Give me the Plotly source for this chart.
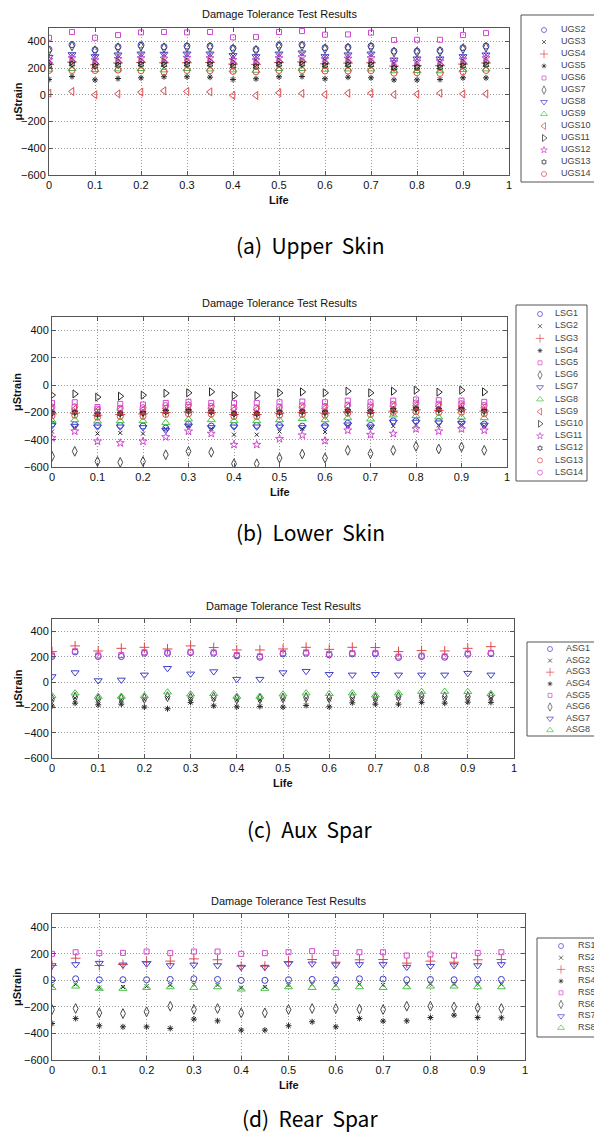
import plotly.graph_objects as go

LIFE = [0.00, 0.05, 0.10, 0.15, 0.20, 0.25, 0.30, 0.35, 0.40, 0.45,
        0.50, 0.55, 0.60, 0.65, 0.70, 0.75, 0.80, 0.85, 0.90, 0.95]

# ---------------- (a) Upper Skin ----------------
UGS_NAMES = ["UGS2", "UGS3", "UGS4", "UGS5", "UGS6", "UGS7", "UGS8",
             "UGS9", "UGS10", "UGS11", "UGS12", "UGS13", "UGS14"]
UGS2 = [340, 375, 337, 360, 372, 360, 365, 365, 350, 340, 372, 375, 352, 357, 365, 327, 327, 332, 352, 365]
UGS3 = [285, 300, 282, 295, 302, 300, 302, 302, 290, 285, 302, 308, 285, 295, 300, 262, 268, 268, 285, 298]
UGS4 = [228, 245, 225, 238, 242, 240, 240, 242, 230, 228, 242, 246, 232, 238, 240, 215, 218, 218, 230, 238]
UGS5 = [115, 137, 112, 122, 127, 135, 135, 132, 115, 120, 135, 137, 120, 132, 127, 112, 112, 115, 127, 127]
UGS6 = [427, 470, 427, 447, 467, 470, 467, 470, 430, 432, 470, 477, 450, 452, 465, 410, 412, 412, 447, 462]
UGS7 = [330, 365, 330, 352, 362, 352, 356, 356, 342, 333, 362, 366, 344, 350, 356, 320, 320, 325, 344, 356]
UGS8 = [282, 302, 287, 300, 307, 305, 307, 307, 295, 287, 307, 315, 287, 300, 307, 262, 270, 270, 287, 300]
UGS9 = [190, 195, 188, 192, 195, 185, 195, 192, 185, 182, 195, 195, 190, 192, 192, 178, 180, 178, 188, 192]
UGS10 = [12, 25, 0, 7, 20, 30, 25, 22, -5, -5, 15, 10, 2, 12, 12, 2, 5, 12, 7, 7]
UGS11 = [238, 250, 235, 245, 248, 245, 248, 248, 238, 236, 248, 250, 240, 245, 245, 212, 215, 225, 238, 245]
UGS12 = [262, 275, 260, 270, 275, 272, 278, 275, 262, 260, 275, 282, 268, 272, 275, 245, 250, 252, 265, 275]
UGS13 = [218, 230, 215, 222, 228, 225, 228, 228, 215, 212, 228, 230, 220, 225, 225, 200, 205, 205, 218, 225]
UGS14 = [182, 182, 182, 185, 180, 170, 182, 180, 175, 172, 182, 182, 178, 178, 180, 162, 165, 160, 172, 182]

# ---------------- (b) Lower Skin ----------------
LSG_NAMES = ["LSG1", "LSG2", "LSG3", "LSG4", "LSG5", "LSG6", "LSG7",
             "LSG8", "LSG9", "LSG10", "LSG11", "LSG12", "LSG13", "LSG14"]
LSG1 = [-285, -290, -295, -295, -300, -315, -285, -300, -295, -295, -295, -300, -298, -280, -295, -262, -262, -265, -272, -285]
LSG2 = [-340, -310, -355, -350, -355, -320, -300, -320, -363, -363, -340, -320, -343, -300, -310, -300, -290, -296, -290, -300]
LSG3 = [-210, -205, -220, -215, -210, -200, -195, -200, -215, -215, -205, -200, -205, -195, -200, -190, -180, -185, -180, -190]
LSG4 = [-200, -195, -210, -205, -200, -185, -184, -190, -205, -205, -195, -190, -195, -185, -190, -175, -170, -175, -170, -185]
LSG5 = [-130, -125, -160, -137, -142, -130, -122, -130, -130, -130, -125, -120, -125, -113, -125, -113, -105, -110, -113, -122]
LSG6 = [-522, -485, -559, -566, -559, -510, -485, -492, -576, -576, -534, -505, -534, -478, -502, -478, -448, -468, -453, -478]
LSG7 = [-295, -300, -305, -305, -310, -330, -298, -310, -305, -305, -305, -310, -305, -290, -305, -270, -270, -275, -280, -292]
LSG8 = [-260, -255, -265, -262, -262, -275, -250, -255, -262, -262, -255, -247, -255, -240, -250, -220, -225, -235, -235, -240]
LSG9 = [-180, -175, -185, -180, -180, -170, -165, -170, -180, -180, -175, -165, -170, -160, -170, -155, -150, -155, -155, -165]
LSG10 = [-73, -64, -88, -81, -73, -59, -56, -49, -76, -76, -56, -49, -56, -44, -56, -44, -37, -51, -37, -49]
LSG11 = [-387, -338, -412, -424, -412, -380, -338, -355, -436, -436, -394, -367, -407, -331, -363, -355, -321, -338, -321, -331]
LSG12 = [-205, -200, -215, -210, -205, -195, -190, -195, -210, -210, -200, -195, -200, -190, -195, -182, -175, -180, -178, -190]
LSG13 = [-225, -220, -235, -230, -228, -215, -210, -212, -230, -230, -220, -215, -220, -205, -215, -200, -195, -200, -198, -210]
LSG14 = [-160, -158, -175, -168, -165, -150, -145, -155, -165, -165, -158, -150, -155, -145, -150, -140, -130, -138, -135, -148]

# ---------------- (c) Aux Spar ----------------
ASG_NAMES = ["ASG1", "ASG2", "ASG3", "ASG4", "ASG5", "ASG6", "ASG7", "ASG8"]
ASG1 = [203, 239, 203, 203, 229, 229, 234, 229, 208, 197, 224, 229, 216, 224, 224, 195, 203, 197, 221, 226]
ASG2 = [-140, -125, -145, -140, -135, -120, -128, -130, -142, -142, -135, -128, -135, -128, -132, -125, -118, -122, -120, -125]
ASG3 = [242, 287, 247, 268, 276, 263, 287, 274, 255, 255, 263, 276, 260, 276, 274, 242, 250, 247, 268, 281]
ASG4 = [-189, -166, -179, -174, -197, -210, -160, -187, -195, -192, -197, -184, -195, -163, -174, -174, -160, -166, -158, -160]
ASG5 = [212, 245, 212, 215, 237, 235, 240, 236, 215, 205, 232, 236, 224, 230, 232, 203, 210, 205, 228, 232]
ASG6 = [-134, -118, -134, -130, -128, -115, -122, -120, -132, -130, -125, -121, -125, -118, -125, -115, -110, -115, -115, -113]
ASG7 = [45, 76, 13, 18, 58, 110, 66, 84, 24, 24, 76, 87, 63, 58, 63, 58, 58, 58, 71, 58]
ASG8 = [-108, -87, -113, -113, -108, -79, -95, -92, -113, -113, -95, -87, -92, -87, -103, -87, -74, -74, -76, -92]

# ---------------- (d) Rear Spar ----------------
RS_NAMES = ["RS1", "RS2", "RS3", "RS4", "RS5", "RS6", "RS7", "RS8"]
RS1 = [5, 12, 5, 5, 5, 7, 12, 7, 0, 0, 5, 7, 5, 12, 10, 5, 7, 5, 7, 7]
RS2 = [-40, -30, -55, -50, -45, -35, -30, -35, -55, -50, -35, -30, -35, -30, -35, -30, -28, -30, -28, -30]
RS3 = [112, 167, 112, 120, 142, 145, 162, 155, 107, 107, 142, 157, 137, 155, 157, 130, 145, 137, 155, 157]
RS4 = [-325, -287, -342, -350, -350, -362, -292, -305, -375, -375, -342, -312, -350, -287, -307, -305, -280, -262, -280, -282]
RS5 = [200, 212, 205, 207, 217, 205, 217, 217, 200, 205, 212, 220, 207, 212, 212, 187, 195, 187, 207, 212]
RS6 = [-220, -212, -245, -250, -237, -195, -220, -212, -245, -245, -220, -212, -212, -217, -220, -195, -195, -200, -207, -212]
RS7 = [112, 120, 130, 117, 125, 112, 117, 112, 100, 100, 125, 125, 117, 120, 120, 100, 107, 112, 112, 120]
RS8 = [-55, -45, -62, -62, -55, -50, -55, -50, -67, -62, -50, -55, -57, -50, -55, -50, -45, -45, -50, -50]

Y_TICKS = [-600, -400, -200, 0, 200, 400]
X_TICKS = [0, 0.1, 0.2, 0.3, 0.4, 0.5, 0.6, 0.7, 0.8, 0.9, 1]

# ---------------- styling ----------------
W, H = 594, 1142
BLUE = "#4040cc"
BLACK = "#2a2a2a"
RED = "#e04848"
MAG = "#d048d0"
GREEN = "#44c444"
GRAY = "#484848"

STYLES = [
    ("circle-open", BLUE, 6),
    ("x-thin-open", BLACK, 4),
    ("cross-thin-open", RED, 7),
    ("asterisk-open", BLACK, 5),
    ("square-open", MAG, 5),
    ("diamond-tall-open", GRAY, 7),
    ("triangle-down-open", BLUE, 7),
    ("triangle-up-open", GREEN, 7),
    ("triangle-left-open", RED, 7),
    ("triangle-right-open", BLACK, 7),
    ("star-open", MAG, 6),
    ("hexagram-open", BLACK, 5),
    ("circle-open", RED, 6),
    ("circle-open", MAG, 6),
]

LEG_FONT = "Liberation Sans, Arial"

panels = [
    dict(names=UGS_NAMES,
         data=[UGS2, UGS3, UGS4, UGS5, UGS6, UGS7, UGS8, UGS9, UGS10, UGS11, UGS12, UGS13, UGS14],
         plot=(49, 509, 28, 175), box=(521, 610, 15, 182), row0=30, step=12, mx=544, tx=561,
         caption="(a)  Upper  Skin", cap_y=245),
    dict(names=LSG_NAMES,
         data=[LSG1, LSG2, LSG3, LSG4, LSG5, LSG6, LSG7, LSG8, LSG9, LSG10, LSG11, LSG12, LSG13, LSG14],
         plot=(52, 507, 317, 467), box=(516, 587, 305, 481), row0=314, step=12.2, mx=540, tx=555,
         caption="(b)  Lower  Skin", cap_y=532),
    dict(names=ASG_NAMES,
         data=[ASG1, ASG2, ASG3, ASG4, ASG5, ASG6, ASG7, ASG8],
         plot=(52, 514, 619, 758), box=(527, 610, 642, 736), row0=649, step=11.6, mx=550, tx=566,
         caption="(c)  Aux  Spar", cap_y=829),
    dict(names=RS_NAMES,
         data=[RS1, RS2, RS3, RS4, RS5, RS6, RS7, RS8],
         plot=(52, 525, 914, 1060), box=(537, 610, 938, 1037), row0=946, step=11.7, mx=561, tx=578,
         caption="(d)  Rear  Spar", cap_y=1118),
]


def fx(p):
    return p / W


def fy(p):
    return 1 - p / H


fig = go.Figure()
layout = dict(
    width=W, height=H,
    margin=dict(l=0, r=0, t=0, b=0, autoexpand=False),
    paper_bgcolor="white", plot_bgcolor="white",
    showlegend=False,
    font=dict(family="Liberation Sans, Arial", color="#111111"),
)
annotations = []
shapes = []

for k, p in enumerate(panels):
    i = k + 1
    sfx = "" if i == 1 else str(i)
    xa, ya = "x" + sfx, "y" + sfx
    x0, x1, y0, y1 = p["plot"]
    axis_common = dict(
        showline=True, linecolor="#555555", linewidth=1, mirror="ticks",
        ticks="inside", ticklen=4, tickcolor="#555555",
        showgrid=True, gridcolor="#9a9a9a", griddash="1px,2px", gridwidth=1,
        zeroline=False, tickfont=dict(size=11, color="#111111"),
    )
    layout["xaxis" + sfx] = dict(
        axis_common, domain=[fx(x0), fx(x1)], range=[0, 1],
        tickvals=X_TICKS, ticktext=[("%g" % t) for t in X_TICKS],
        anchor=ya,
    )
    layout["yaxis" + sfx] = dict(
        axis_common, domain=[fy(y1), fy(y0)], range=[-600, 500],
        tickvals=Y_TICKS, anchor=xa,
    )
    for j, (name, vals) in enumerate(zip(p["names"], p["data"])):
        sym, col, sz = STYLES[j]
        fig.add_trace(go.Scatter(
            x=LIFE, y=vals, mode="markers", name=name,
            marker=dict(symbol=sym, size=sz, color=col, line=dict(width=1, color=col)),
            xaxis=xa, yaxis=ya, showlegend=False,
        ))

    # legend (drawn on its own small axis)
    li = i + 4
    lxa, lya = "x" + str(li), "y" + str(li)
    bx0, bx1, by0, by1 = p["box"]
    n = len(p["names"])
    layout["xaxis" + str(li)] = dict(domain=[fx(bx0), 1.0], range=[bx0, W], visible=False,
                                     fixedrange=True, anchor=lya)
    layout["yaxis" + str(li)] = dict(domain=[fy(by1), fy(by0)],
                                     range=[(by1 - p["row0"]) / p["step"], (by0 - p["row0"]) / p["step"]],
                                     visible=False, fixedrange=True, anchor=lxa)
    shapes.append(dict(type="rect", xref="paper", yref="paper",
                       x0=fx(bx0), x1=fx(bx1), y0=fy(by1), y1=fy(by0),
                       line=dict(color="#555555", width=1), fillcolor="white", layer="below"))
    rows = list(range(n))
    fig.add_trace(go.Scatter(
        x=[p["mx"]] * n, y=rows, mode="markers",
        marker=dict(symbol=[STYLES[j][0] for j in rows], color=[STYLES[j][1] for j in rows],
                    size=[max(STYLES[j][2] - 1, 4) for j in rows],
                    line=dict(width=1, color=[STYLES[j][1] for j in rows])),
        xaxis=lxa, yaxis=lya, showlegend=False, hoverinfo="skip", cliponaxis=False,
    ))
    fig.add_trace(go.Scatter(
        x=[p["tx"]] * n, y=rows, mode="text", text=p["names"], textposition="middle right",
        textfont=dict(size=9, color="#444444", family=LEG_FONT),
        xaxis=lxa, yaxis=lya, showlegend=False, hoverinfo="skip", cliponaxis=False,
    ))

    xc = fx((x0 + x1) / 2)
    annotations += [
        dict(text="Damage Tolerance Test Results", x=xc, y=fy(y0 - 13.5), xref="paper", yref="paper",
             showarrow=False, font=dict(size=11, color="#111111"), xanchor="center", yanchor="middle"),
        dict(text="<b>Life</b>", x=xc, y=fy(y1 + 25), xref="paper", yref="paper",
             showarrow=False, font=dict(size=11, color="#111111"), xanchor="center", yanchor="middle"),
        dict(text="<b>μStrain</b>", x=fx(17), y=fy((y0 + y1) / 2), xref="paper", yref="paper",
             showarrow=False, textangle=-90, font=dict(size=11, color="#111111"),
             xanchor="center", yanchor="middle"),
        dict(text=p["caption"], x=fx(310), y=fy(p["cap_y"]), xref="paper", yref="paper",
             showarrow=False, font=dict(size=21, color="#000000", family="Noto Sans CJK KR, DejaVu Sans"),
             xanchor="center", yanchor="middle"),
    ]

layout["annotations"] = annotations
layout["shapes"] = shapes
fig.update_layout(**layout)
fig.write_html(
    "out.html",
    config={"displayModeBar": False},
    post_script="document.body.style.margin='0';document.body.style.padding='0';"
                "document.body.style.overflow='hidden';",
)
